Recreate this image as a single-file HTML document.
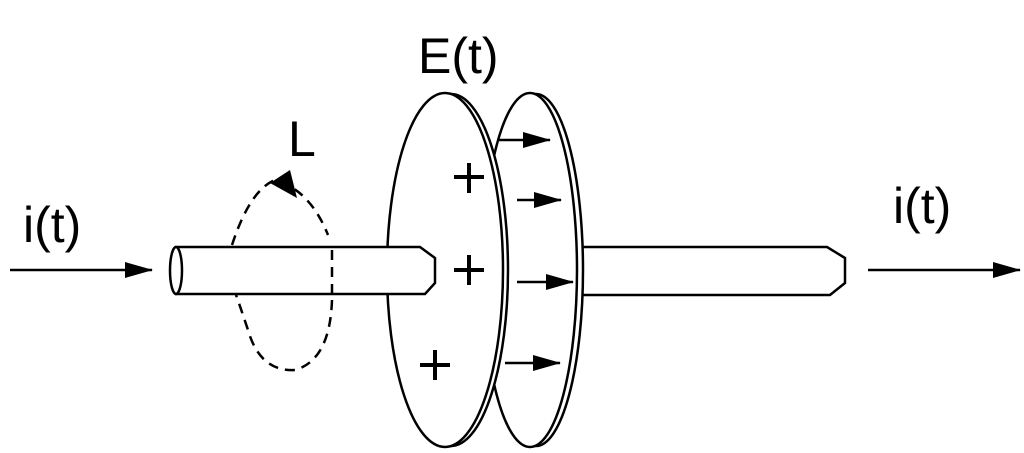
<!DOCTYPE html>
<html><head><style>
html,body{margin:0;padding:0;background:#fff;}
svg{display:block}
text{font-family:"Liberation Sans",sans-serif;fill:#000}
</style></head><body>
<svg width="1024" height="453" viewBox="0 0 1024 453" xmlns="http://www.w3.org/2000/svg">
<defs>
<marker id="b" markerWidth="28" markerHeight="16" refX="27" refY="8" orient="auto" markerUnits="userSpaceOnUse" viewBox="0 0 28 16">
<path d="M0,0 L28,8 L0,16 Z" fill="#000"/></marker>
</defs>
<g fill="none" stroke="#000" stroke-width="2.5">
<line x1="10" y1="270" x2="152" y2="270" marker-end="url(#b)"/>
<line x1="868" y1="270" x2="1020" y2="270" marker-end="url(#b)"/>
<path d="M575,247 L827,247 L845,258 L845,283 L830,295 L575,295" fill="#fff"/>
<ellipse cx="536" cy="270" rx="47" ry="176" fill="#fff"/>
<ellipse cx="530" cy="270" rx="47" ry="177" fill="#fff"/>
<ellipse cx="451" cy="270" rx="57" ry="176" fill="#fff"/>
<ellipse cx="445" cy="270" rx="58" ry="177" fill="#fff"/>
<path d="M175,247 L420,247 L435,258 L435,283 L425,294 L175,294" fill="#fff"/>
<ellipse cx="176" cy="270.5" rx="6" ry="23.5" fill="#fff"/>
<path d="M232,245 Q250,190 275,180 Q310,190 328,235" stroke-dasharray="10,7"/>
<path d="M332,250 L332,293 M332,300 Q330,360 295,370 Q260,372 248,330 Q238,300 236,295" stroke-dasharray="10,7"/>
<line x1="497" y1="140" x2="550" y2="140" marker-end="url(#b)"/>
<line x1="517" y1="200" x2="561" y2="200" marker-end="url(#b)"/>
<line x1="517" y1="282" x2="573" y2="282" marker-end="url(#b)"/>
<line x1="505" y1="363" x2="560" y2="363" marker-end="url(#b)"/>
</g>
<path d="M270,183 L290,170 L297,198 Z" fill="#000"/>
<g stroke="#000" stroke-width="4">
<path d="M454,177 h30 M469,163 v30"/>
<path d="M454,270 h30 M469,255 v30"/>
<path d="M420,365 h30 M435,350 v30"/>
</g>
<text x="23" y="242" font-size="50">i(t)</text>
<text x="893" y="223" font-size="50">i(t)</text>
<text x="418" y="73" font-size="50">E(t)</text>
<text x="288" y="156" font-size="50">L</text>
</svg>
</body></html>
